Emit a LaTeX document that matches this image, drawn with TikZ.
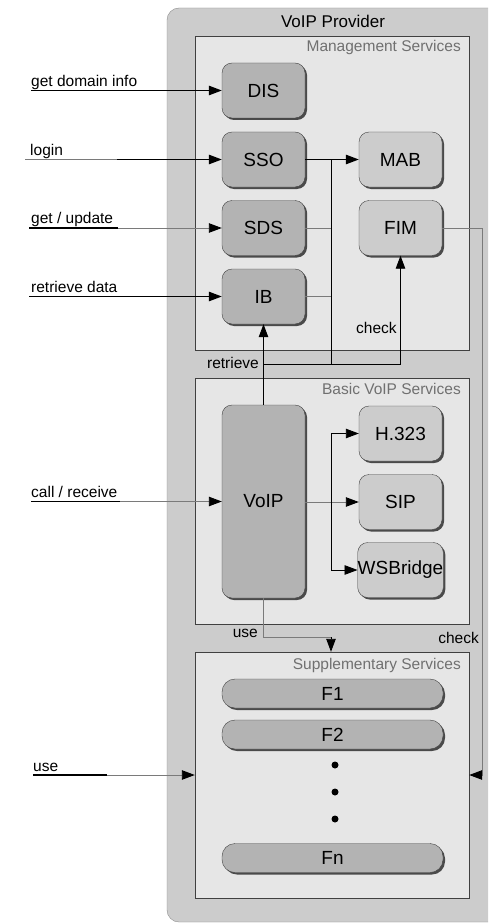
\documentclass[tikz,border=0pt]{standalone}
\usepackage{fontspec}
\setmainfont{Liberation Sans}
\usetikzlibrary{arrows.meta,shadows,calc}
\definecolor{dkfill}{HTML}{B3B3B3}
\definecolor{ltfill}{HTML}{CCCCCC}
\definecolor{outfill}{HTML}{CCCCCC}
\definecolor{contfill}{HTML}{E6E6E6}
\definecolor{boxline}{HTML}{404040}
\definecolor{outline}{HTML}{8C8C8C}
\definecolor{shadowc}{HTML}{4A4A4A}
\definecolor{titlegray}{HTML}{707070}
\definecolor{glinec}{HTML}{7A7A7A}
\begin{document}
\begin{tikzpicture}[x=1pt,y=-1pt,
  svc/.style={draw=boxline, rounded corners=10pt, fill=dkfill, minimum width=83pt, minimum height=55pt, inner sep=0pt, font=\fontsize{19}{21}\selectfont, drop shadow={shadow xshift=2pt, shadow yshift=-2pt, fill=shadowc, opacity=1}},
  svcl/.style={svc, fill=ltfill},
  feat/.style={svc, minimum width=221pt, minimum height=29pt, rounded corners=13pt},
  cont/.style={draw=boxline, fill=contfill, inner sep=0pt, minimum width=274pt},
  outerbox/.style={draw=outline, fill=outfill, rounded corners=12pt, inner sep=0pt},
  lbl/.style={font=\fontsize{15.5}{17}\selectfont, inner sep=0pt},
  ctitle/.style={lbl, text=titlegray, anchor=base east},
  bl/.style={draw=black, line width=1.2pt},
  gl/.style={draw=glinec, line width=0.9pt},
  tip/.style={-{Triangle[length=13pt,width=9.5pt,color=black]}},
  dotc/.style={circle, fill=black, inner sep=0pt, minimum size=7pt}
]
\useasboundingbox (0,0) rectangle (488,923);
\clip (0,0) rectangle (488,923);
\fill[white] (0,0) rectangle (488,923);

% outer provider box
\node[outerbox, minimum width=348pt, minimum height=914pt] (prov) at (341,465) {};
\node[font=\fontsize{17}{19}\selectfont, inner sep=0pt] (provt) at (333,21) {VoIP Provider};

% containers
\node[cont, minimum height=314pt] (mgmt) at (332,193) {};
\node[ctitle] (mgmtt) at (461,52) {Management Services};
\node[cont, minimum height=246pt] (basic) at (332,501) {};
\node[ctitle] (basict) at (461,394) {Basic VoIP Services};
\node[cont, minimum height=246pt] (supp) at (332,775) {};
\node[ctitle] (suppt) at (461,669) {Supplementary Services};

% management services
\node[svc] (DIS) at (263.5,90.5) {DIS};
\node[svc] (SSO) at (263.5,159.5) {SSO};
\node[svc] (SDS) at (263.5,228) {SDS};
\node[svc] (IB) at (263.5,296.5) {IB};
\node[svcl] (MAB) at (400.5,159.5) {MAB};
\node[svcl] (FIM) at (400.5,228) {FIM};

% basic services
\node[svc, minimum height=193pt] (VoIP) at (263.5,501.5) {VoIP};
\node[svcl] (H323) at (400.5,433.5) {H.323};
\node[svcl] (SIP) at (400.5,502) {SIP};
\node[svcl] (WSB) at (400.5,570) {WSBridge};

% supplementary
\node[feat] (F1) at (332.5,693.5) {F1};
\node[feat] (F2) at (332.5,734.5) {F2};
\node[feat] (Fn) at (332.5,858) {Fn};
\node[dotc] (d1) at (335,765) {};
\node[dotc] (d2) at (335,792) {};
\node[dotc] (d3) at (335,819) {};

% external inputs
\node[lbl, anchor=base west] (lDIS) at (31,87) {get domain info};
\coordinate (sDIS) at (31,90.5);
\draw[bl,tip] (sDIS) -- (DIS.west);

\node[lbl, anchor=base west] (lSSO) at (30,155) {login};
\coordinate (sSSO) at (25,159.5);
\coordinate (mSSO) at (117,159.5);
\draw[gl] (sSSO) -- (mSSO);
\draw[bl,tip] (mSSO) -- (SSO.west);

\node[lbl, anchor=base west] (lSDS) at (31,223) {get / update};
\coordinate (sSDS) at (29,228);
\coordinate (mSDS) at (118,228);
\draw[bl] (sSDS) -- (mSDS);
\draw[gl,tip] (mSDS) -- (SDS.west);

\node[lbl, anchor=base west] (lIB) at (31,292) {retrieve data};
\coordinate (sIB) at (29,296.5);
\draw[bl,tip] (sIB) -- (IB.west);

\node[lbl, anchor=base west] (lVoIP) at (31,497) {call / receive};
\coordinate (sVoIP) at (31,501.5);
\coordinate (mVoIP) at (120,501.5);
\draw[bl] (sVoIP) -- (mVoIP);
\draw[gl,tip] (mVoIP) -- (VoIP.west);

\node[lbl, anchor=base west] (lUse) at (33,771) {use};
\coordinate (sUse) at (33,775);
\coordinate (mUse) at (107,775);
\draw[bl] (sUse) -- (mUse);
\draw[gl,tip] (mUse) -- (supp.west);

% management internals
\draw[bl,tip] (SSO.east) -- (MAB.west);
\coordinate (jx) at (331,159.5);
\coordinate (r) at (263.5,364);
\draw[bl, line width=0.9pt] (jx) -- (jx |- r);
\draw[gl] (SDS.east) -- (SDS.east -| jx);
\draw[gl] (IB.east) -- (IB.east -| jx);
\draw[bl, line width=0.9pt] (VoIP.north) -- (r);
\draw[bl, line width=0.9pt,tip] (r) -- (IB.south);
\draw[bl, line width=0.9pt,tip] (r) -| (FIM.south);
\node[lbl, anchor=base east] (lret) at (259,368) {retrieve};
\node[lbl, anchor=base west] (lchk) at (356,333) {check};

% basic internals
\coordinate (bx) at (331,501.5);
\draw[gl,tip] (VoIP.east |- SIP.west) -- (SIP.west);
\draw[bl, line width=0.9pt,tip] (bx) |- (H323.west);
\draw[bl, line width=0.9pt,tip] (bx) |- (WSB.west);

% use: VoIP -> supplementary
\coordinate (u) at (331,637);
\draw[gl] (VoIP.south) |- (u);
\draw[bl, line width=0.9pt,tip] (u) -- (u |- supp.north);
\node[lbl, anchor=base east] (luse2) at (258,637) {use};

% check: FIM -> supplementary
\coordinate (c) at (482,775);
\draw[gl,tip] (FIM.east) -| (c) -- (supp.east);
\node[lbl, anchor=base east] (lchk2) at (479,643) {check};
\end{tikzpicture}
\end{document}
